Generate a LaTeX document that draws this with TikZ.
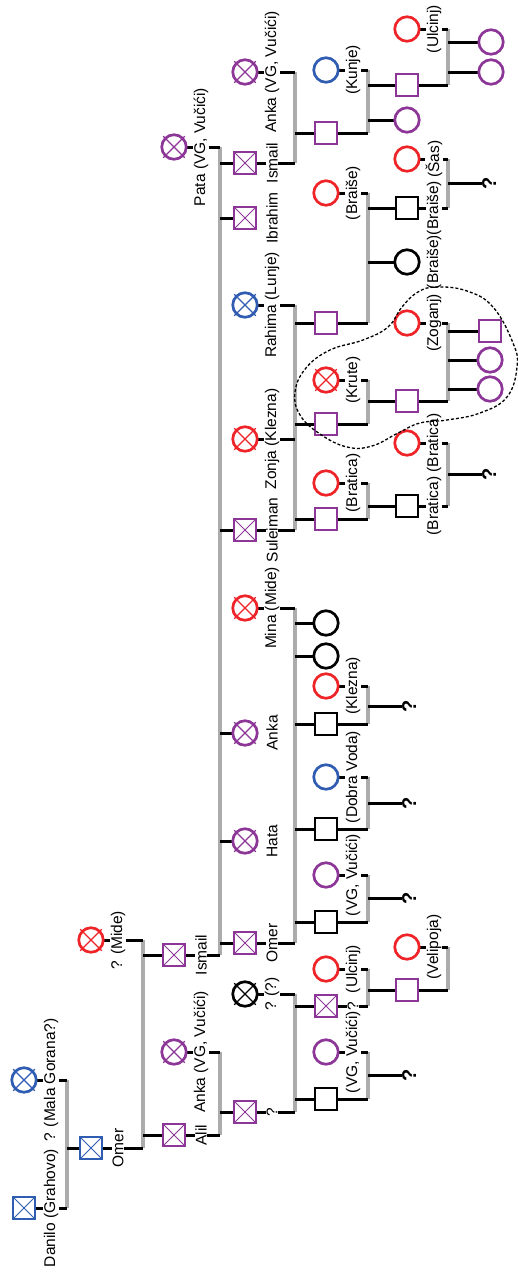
\documentclass[tikz,border=0pt]{standalone}
\usepackage{fontspec}
\setmainfont{Liberation Sans}
\usetikzlibrary{backgrounds}
\definecolor{cblue}{RGB}{48,92,178}
\definecolor{cred}{RGB}{238,36,40}
\definecolor{cpur}{RGB}{140,54,152}
\definecolor{cbar}{RGB}{172,172,172}
\newcommand\lblfont{\fontsize{15.5}{18}\selectfont}
\newcommand\qmfont{\fontsize{20}{21}\selectfont\bfseries}
\tikzset{
  sq/.style={rectangle, draw=#1, line width=2.7pt, minimum size=22pt, inner sep=0pt, fill=white},
  xsq/.style={sq=#1, path picture={\draw[#1, line width=1pt] (path picture bounding box.north west) -- (path picture bounding box.south east) (path picture bounding box.south west) -- (path picture bounding box.north east);}},
  ci/.style={circle, draw=#1, line width=2.7pt, minimum size=24.5pt, inner sep=0pt, fill=white},
  xline/.style={draw=#1, line width=1.2pt},
  lab/.style={rotate=90, fill=white, inner xsep=0.5pt, inner ysep=0.6pt, font=\lblfont},
  qm/.style={rotate=90, inner sep=0pt, font=\qmfont, anchor=north},
  bar/.style={draw=cbar, line width=3.2pt},
  ln/.style={draw=black, line width=3pt},
  blob/.style={draw=black, line width=1.3pt, dash pattern=on 3pt off 2pt},
}
\newcommand\xcirc[2]{\draw[xline=#2] ([shift={(-10.8,-10.8)}]#1.center) -- ([shift={(10.8,10.8)}]#1.center) ([shift={(-10.8,10.8)}]#1.center) -- ([shift={(10.8,-10.8)}]#1.center);}
\newcommand\per[5]{\node[#2] (#1) at (#3,#4) {}; \node[lab] (#1l) at ({#3+27},#4) {#5};}
\newcommand\mar[3]{\draw[bar] (#1 -| #3) -- (#2 -| #3); \draw[ln] (#1.center) -- (#1 -| #3); \draw[ln] (#2.center) -- (#2 -| #3);}
\newcommand\kid[2]{\draw[ln] (#1 -| #2) -- (#1.center);}
\newcommand\qkid[2]{\draw[ln] (#1 -| #2) -- (#1.north);}
\begin{document}
\begin{tikzpicture}[x=1pt,y=-1pt]
\useasboundingbox (0,0) rectangle (518,1274);
\coordinate (b1) at (67,0);
\coordinate (b2) at (143,0);
\coordinate (b3) at (220,0);
\coordinate (b4) at (295,0);
\coordinate (b5) at (368,0);
\coordinate (b6) at (448,0);
% generation 1
\per{danilo}{xsq=cblue}{24}{1208}{Danilo (Grahovo)}
\per{malag}{ci=cblue}{24}{1080}{? (Mala Gorana?)} \xcirc{malag}{cblue}
% generation 2
\per{omera}{xsq=cblue}{91}{1148}{Omer}
\per{midea}{ci=cred}{91}{940}{? (Mide)} \xcirc{midea}{cred}
% generation 3
\per{alil}{xsq=cpur}{174}{1135}{Alil}
\per{ankaa}{ci=cpur}{174}{1052}{Anka (VG, Vučići)} \xcirc{ankaa}{cpur}
\per{ismaila}{xsq=cpur}{174}{955}{Ismail}
\per{pata}{ci=cpur}{174}{147}{Pata (VG, Vučići)} \xcirc{pata}{cpur}
% generation 4
\per{qfour}{xsq=cpur}{245}{1112}{?}
\per{qq}{ci=black}{245}{994}{? (?)} \xcirc{qq}{black}
\per{omerb}{xsq=cpur}{245}{943}{Omer}
\per{hata}{ci=cpur}{245}{841}{Hata} \xcirc{hata}{cpur}
\per{ankab}{ci=cpur}{245}{733}{Anka} \xcirc{ankab}{cpur}
\per{mina}{ci=cred}{245}{608}{Mina (Mide)} \xcirc{mina}{cred}
\per{sulej}{xsq=cpur}{245}{530}{Suleiman}
\per{zonja}{ci=cred}{245}{439}{Zonja (Klezna)} \xcirc{zonja}{cred}
\per{rahima}{ci=cblue}{245}{305}{Rahima (Lunje)} \xcirc{rahima}{cblue}
\per{ibrahim}{xsq=cpur}{245}{218}{Ibrahim}
\per{ismailb}{xsq=cpur}{245}{163}{Ismail}
\per{ankac}{ci=cpur}{245}{72}{Anka (VG, Vučići)} \xcirc{ankac}{cpur}
% generation 5
\node[sq=black] (ea) at (326,1099) {};
\per{eb}{ci=cpur}{326}{1052}{(VG, Vučići)}
\per{ec}{xsq=cpur}{326}{1006}{?}
\per{ed}{ci=cred}{326}{969}{(Ulcinj)}
\node[sq=black] (ee) at (326,922) {};
\per{ef}{ci=cpur}{326}{875}{(VG, Vučići)}
\node[sq=black] (eg) at (326,829) {};
\per{eh}{ci=cblue}{326}{777}{(Dobra Voda)}
\node[sq=black] (ei) at (326,724) {};
\per{ej}{ci=cred}{326}{686}{(Klezna)}
\node[ci=black] (ek) at (326,656) {};
\node[ci=black] (el) at (326,623) {};
\node[sq=cpur] (em) at (326,519) {};
\per{en}{ci=cred}{326}{483}{(Bratica)}
\node[sq=cpur] (eo) at (326,424) {};
\per{ep}{ci=cred}{326}{380}{(Krute)} \xcirc{ep}{cred}
\node[sq=cpur] (eq) at (326,323) {};
\per{er}{ci=cred}{326}{193}{(Braiše)}
\node[sq=cpur] (es) at (326,133) {};
\per{et}{ci=cblue}{326}{70}{(Kunje)}
% generation 6
\node[sq=cpur] (fa) at (407,990) {};
\per{fb}{ci=cred}{407}{947}{(Velipoja)}
\node[qm] (qa) at (402,1075) {?};
\node[qm] (qb) at (402,898) {?};
\node[qm] (qc) at (402,803) {?};
\node[qm] (qd) at (402,706) {?};
\per{fc}{sq=black}{407}{506}{(Bratica)}
\per{fd}{ci=cred}{407}{443}{(Bratica)}
\node[sq=cpur] (fe) at (407,401) {};
\per{ff}{ci=cred}{407}{323}{(Zoganj)}
\per{fg}{ci=black}{407}{262}{(Braiše)}
\per{fh}{sq=black}{407}{208}{(Braiše)}
\per{fi}{ci=cred}{407}{159}{(Šas)}
\node[ci=cpur] (fj) at (407,120) {};
\node[sq=cpur] (fk) at (407,85) {};
\per{fl}{ci=cred}{407}{29}{(Ulcinj)}
% generation 7
\node[qm] (qe) at (482,474) {?};
\node[qm] (qf) at (482,183) {?};
\node[sq=cpur] (ha) at (490,331) {};
\node[ci=cpur] (hb) at (490,360) {};
\node[ci=cpur] (hc) at (490,389) {};
\node[ci=cpur] (hd) at (491,42) {};
\node[ci=cpur] (he) at (491,72) {};
% connectors
\begin{scope}[on background layer]
\mar{malag}{danilo}{b1} \kid{omera}{b1}
\mar{midea}{omera}{b2} \kid{alil}{b2} \kid{ismaila}{b2}
\mar{ankaa}{alil}{b3} \kid{qfour}{b3}
\mar{pata}{ismaila}{b3}
\kid{ismailb}{b3} \kid{ibrahim}{b3} \kid{sulej}{b3} \kid{ankab}{b3} \kid{hata}{b3} \kid{omerb}{b3}
\mar{qq}{qfour}{b4} \kid{ea}{b4} \kid{ec}{b4}
\mar{mina}{omerb}{b4} \kid{el}{b4} \kid{ek}{b4} \kid{ei}{b4} \kid{eg}{b4} \kid{ee}{b4}
\mar{rahima}{sulej}{b4} \draw[ln] (zonja.center) -- (zonja -| b4);
\kid{eq}{b4} \kid{eo}{b4} \kid{em}{b4}
\mar{ankac}{ismailb}{b4} \kid{es}{b4}
\mar{eb}{ea}{b5} \qkid{qa}{b5}
\mar{ed}{ec}{b5} \kid{fa}{b5}
\mar{ef}{ee}{b5} \qkid{qb}{b5}
\mar{eh}{eg}{b5} \qkid{qc}{b5}
\mar{ej}{ei}{b5} \qkid{qd}{b5}
\mar{en}{em}{b5} \kid{fc}{b5}
\mar{ep}{eo}{b5} \kid{fe}{b5}
\mar{er}{eq}{b5} \kid{fh}{b5} \kid{fg}{b5}
\mar{et}{es}{b5} \kid{fk}{b5} \kid{fj}{b5}
\mar{fb}{fa}{b6}
\mar{fd}{fc}{b6} \qkid{qe}{b6}
\mar{ff}{fe}{b6} \kid{ha}{b6} \kid{hb}{b6} \kid{hc}{b6}
\mar{fi}{fh}{b6} \qkid{qf}{b6}
\mar{fl}{fk}{b6} \kid{hd}{b6} \kid{he}{b6}
\end{scope}
% dashed outline
\draw[blob] plot[smooth cycle, tension=0.7] coordinates {(513,343) (493,307) (467,291) (437,287) (418,292) (402,307) (388,327) (363,340) (330,350) (306,368) (295,392) (300,415) (320,434) (347,447) (372,446) (398,433) (420,423) (447,420) (480,413) (507,397) (517,367)};
\end{tikzpicture}
\end{document}
